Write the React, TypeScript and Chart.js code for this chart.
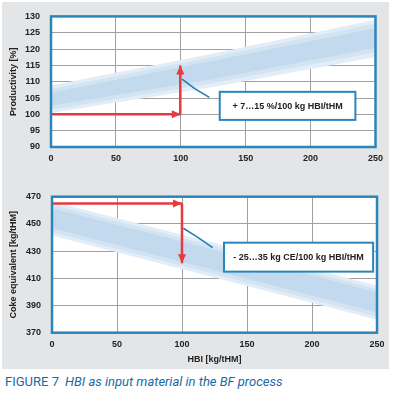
import React, { useEffect, useRef } from 'react';
import { Chart, registerables } from 'chart.js';

Chart.register(...registerables);

// ---------- data ----------
const hbiTicks = [0, 50, 100, 150, 200, 250];
const bandX = [0, 125, 250];

// Productivity chart
const prodTickStep = 5;
const prodOuterHigh = [108.8, 118.6, 129.0];
const prodOuterLow = [100.4, 108.4, 117.6];
const prodMidHigh = [107.8, 117.6, 127.8];
const prodMidLow = [101.4, 109.6, 119.0];
const prodInnerHigh = [106.6, 116.4, 126.4];
const prodInnerLow = [102.6, 110.8, 120.4];
const prodArrowHX = [0, 100];
const prodArrowHY = [100, 100];
const prodArrowVX = [99.6, 99.6];
const prodArrowVY = [100, 115];
const prodLeaderX = [101, 111, 122];
const prodLeaderY = [110.8, 107.8, 105.2];
const prodNoteX = [130, 234.5];
const prodNoteY = [98.3, 106.9];
const prodNoteText = '+ 7…15 %/100 kg HBI/tHM';

// Coke equivalent chart
const cokeTickStep = 10;
const cokeTickLabels = ['370', '390', '410', '430', '450', '470'];
const cokeOuterHigh = [466.5, 436, 404.5];
const cokeOuterLow = [441.5, 410.5, 379.5];
const cokeMidHigh = [464, 433.5, 402];
const cokeMidLow = [444, 413, 382];
const cokeInnerHigh = [461.5, 431, 399.5];
const cokeInnerLow = [447, 416, 385];
const cokeArrowHX = [0, 100];
const cokeArrowHY = [465, 465];
const cokeArrowVX = [100, 100];
const cokeArrowVY = [465, 421];
const cokeLeaderX = [101, 111.3, 123.6];
const cokeLeaderY = [446.8, 440.6, 432.5];
const cokeNoteX = [132.3, 247];
const cokeNoteY = [414.9, 436.2];
const cokeNoteText = '- 25…35 kg CE/100 kg HBI/tHM';

// ---------- styling ----------
const FONT = "'Liberation Sans', Arial, sans-serif";
const FRAME_BLUE = '#2a86ba';
const LEADER_BLUE = '#1f7fb0';
const RED = '#e63a3f';
const GRID = '#a0a0a0';
const TEXT = '#222222';
const BAND_OUTER = '#e2edf7';
const BAND_MID = '#d2e3f2';
const BAND_INNER = '#c3d9ed';

type Pt = { x: number; y: number };
const pts = (xs: number[], ys: number[]): Pt[] => xs.map((x, i) => ({ x, y: ys[i] }));

const bandLayer = (low: number[], high: number[], color: string, order: number) => [
  { data: pts(bandX, low), borderColor: 'transparent', borderWidth: 0, pointRadius: 0, fill: false, order },
  { data: pts(bandX, high), borderColor: 'transparent', borderWidth: 0, pointRadius: 0, fill: '-1', backgroundColor: color, order },
];

const lineDs = (xs: number[], ys: number[], color: string, width: number, order: number, arrowHead = false) => ({
  data: pts(xs, ys),
  borderColor: color,
  borderWidth: width,
  pointRadius: 0,
  fill: false,
  tension: 0,
  borderCapStyle: 'butt',
  order,
  arrowHead,
});

const decorPlugin = {
  id: 'decor',
  beforeDraw(chart: any) {
    const { ctx, chartArea: a } = chart;
    ctx.save();
    ctx.fillStyle = '#ffffff';
    ctx.fillRect(a.left, a.top, a.right - a.left, a.bottom - a.top);
    ctx.restore();
  },
  afterDatasetsDraw(chart: any, _args: any, opts: any) {
    const { ctx, chartArea: a, scales } = chart;
    // arrow heads
    chart.data.datasets.forEach((ds: any, i: number) => {
      if (!ds.arrowHead) return;
      const meta = chart.getDatasetMeta(i);
      const n = meta.data.length;
      const p1 = meta.data[n - 2];
      const p2 = meta.data[n - 1];
      const ang = Math.atan2(p2.y - p1.y, p2.x - p1.x);
      const L = 9;
      const W = 4;
      const c = Math.cos(ang);
      const s = Math.sin(ang);
      ctx.save();
      ctx.fillStyle = ds.borderColor;
      ctx.beginPath();
      ctx.moveTo(p2.x, p2.y);
      ctx.lineTo(p2.x - L * c + W * s, p2.y - L * s - W * c);
      ctx.lineTo(p2.x - L * c - W * s, p2.y - L * s + W * c);
      ctx.closePath();
      ctx.fill();
      ctx.restore();
    });
    // note box
    const note = opts && opts.note;
    if (note) {
      const x1 = scales.x.getPixelForValue(note.x[0]);
      const x2 = scales.x.getPixelForValue(note.x[1]);
      const y1 = scales.y.getPixelForValue(note.y[1]);
      const y2 = scales.y.getPixelForValue(note.y[0]);
      ctx.save();
      ctx.fillStyle = '#ffffff';
      ctx.fillRect(x1, y1, x2 - x1, y2 - y1);
      ctx.strokeStyle = FRAME_BLUE;
      ctx.lineWidth = 2;
      ctx.strokeRect(x1, y1, x2 - x1, y2 - y1);
      ctx.fillStyle = TEXT;
      ctx.font = `bold 9px ${FONT}`;
      ctx.textAlign = 'center';
      ctx.textBaseline = 'middle';
      ctx.fillText(note.text, (x1 + x2) / 2, (y1 + y2) / 2 + 0.5);
      ctx.restore();
    }
    // frame
    ctx.save();
    ctx.strokeStyle = FRAME_BLUE;
    ctx.lineWidth = 2.5;
    ctx.strokeRect(a.left, a.top, a.right - a.left, a.bottom - a.top);
    ctx.restore();
  },
};

const tickFont = { family: FONT, size: 9, weight: 'bold' as const };

function makeConfig(p: {
  datasets: any[];
  yMin: number;
  yMax: number;
  yStep: number;
  yLabel: (v: number) => string;
  yTitle: string;
  xTitle?: string;
  padTop: number;
  padRight: number;
  yWidth: number;
  xHeight: number;
  note: any;
}) {
  return {
    type: 'line',
    data: { datasets: p.datasets },
    plugins: [decorPlugin],
    options: {
      animation: false,
      responsive: false,
      devicePixelRatio: 1,
      layout: { padding: { top: p.padTop, right: p.padRight, left: 0, bottom: 0 } },
      plugins: {
        legend: { display: false },
        tooltip: { enabled: false },
        decor: { note: p.note },
      },
      scales: {
        x: {
          type: 'linear',
          min: hbiTicks[0],
          max: hbiTicks[hbiTicks.length - 1],
          afterBuildTicks: (s: any) => {
            s.ticks = hbiTicks.map((v) => ({ value: v }));
          },
          ticks: { padding: 6, color: TEXT, font: tickFont, maxRotation: 0, autoSkip: false },
          grid: { color: GRID, lineWidth: 1, drawTicks: false },
          border: { display: false },
          title: p.xTitle
            ? { display: true, text: p.xTitle, color: TEXT, font: tickFont, padding: { top: 0, bottom: 5.5 } }
            : { display: false },
          afterFit: (s: any) => {
            s.height = p.xHeight;
          },
        },
        y: {
          type: 'linear',
          min: p.yMin,
          max: p.yMax,
          ticks: { stepSize: p.yStep, padding: 11, color: TEXT, font: tickFont, callback: (v: any) => p.yLabel(Number(v)) },
          grid: { color: GRID, lineWidth: 1, drawTicks: false },
          border: { display: false },
          title: { display: true, text: p.yTitle, color: TEXT, font: tickFont, padding: { top: 8.6, bottom: 0 } },
          afterFit: (s: any) => {
            s.width = p.yWidth;
          },
        },
      },
    },
  };
}

const prodConfig = makeConfig({
  datasets: [
    ...bandLayer(prodOuterLow, prodOuterHigh, BAND_OUTER, 7),
    ...bandLayer(prodMidLow, prodMidHigh, BAND_MID, 6),
    ...bandLayer(prodInnerLow, prodInnerHigh, BAND_INNER, 5),
    lineDs(prodLeaderX, prodLeaderY, LEADER_BLUE, 1.6, 2),
    lineDs(prodArrowHX, prodArrowHY, RED, 2.5, 0, true),
    lineDs(prodArrowVX, prodArrowVY, RED, 2.5, 0, true),
  ],
  yMin: 90,
  yMax: 130,
  yStep: prodTickStep,
  yLabel: (v) => String(v),
  yTitle: 'Productivity [%]',
  padTop: 12,
  padRight: 22.5,
  yWidth: 51,
  xHeight: 23,
  note: { x: prodNoteX, y: prodNoteY, text: prodNoteText },
});

const cokeConfig = makeConfig({
  datasets: [
    ...bandLayer(cokeOuterLow, cokeOuterHigh, BAND_OUTER, 7),
    ...bandLayer(cokeMidLow, cokeMidHigh, BAND_MID, 6),
    ...bandLayer(cokeInnerLow, cokeInnerHigh, BAND_INNER, 5),
    lineDs(cokeLeaderX, cokeLeaderY, LEADER_BLUE, 1.6, 2),
    lineDs(cokeArrowHX, cokeArrowHY, RED, 2.5, 0, true),
    lineDs(cokeArrowVX, cokeArrowVY, RED, 2.5, 0, true),
  ],
  yMin: 370,
  yMax: 470,
  yStep: cokeTickStep,
  yLabel: (v) => (cokeTickLabels.includes(String(v)) ? String(v) : ''),
  yTitle: 'Coke equivalent [kg/tHM]',
  xTitle: 'HBI [kg/tHM]',
  padTop: 26.7,
  padRight: 21,
  yWidth: 52,
  xHeight: 37.3,
  note: { x: cokeNoteX, y: cokeNoteY, text: cokeNoteText },
});

function ChartCanvas({ config, top, width, height }: { config: any; top: number; width: number; height: number }) {
  const ref = useRef<HTMLCanvasElement>(null);
  useEffect(() => {
    const chart = new Chart(ref.current as HTMLCanvasElement, config);
    return () => chart.destroy();
  }, [config]);
  return (
    <canvas
      ref={ref}
      width={width}
      height={height}
      style={{ position: 'absolute', left: 0, top, width, height, display: 'block' }}
    />
  );
}

export default function App() {
  return (
    <div style={{ position: 'fixed', left: 0, top: 0, width: 398, height: 394, background: '#ffffff', overflow: 'hidden' }}>
      <div style={{ position: 'absolute', left: 2, top: 2, width: 387, height: 367, background: '#e4e5e7' }} />
      <ChartCanvas config={prodConfig} top={0} width={398} height={170} />
      <ChartCanvas config={cokeConfig} top={170} width={398} height={200} />
      <div
        style={{
          position: 'absolute',
          left: 5,
          top: 374,
          fontFamily: 'Roboto, sans-serif',
          fontSize: 13,
          lineHeight: '15px',
          color: '#1b6aa5',
          whiteSpace: 'nowrap',
        }}
      >
        <span>FIGURE 7</span>
        <i style={{ marginLeft: 6 }}>HBI as input material in the BF process</i>
      </div>
    </div>
  );
}
